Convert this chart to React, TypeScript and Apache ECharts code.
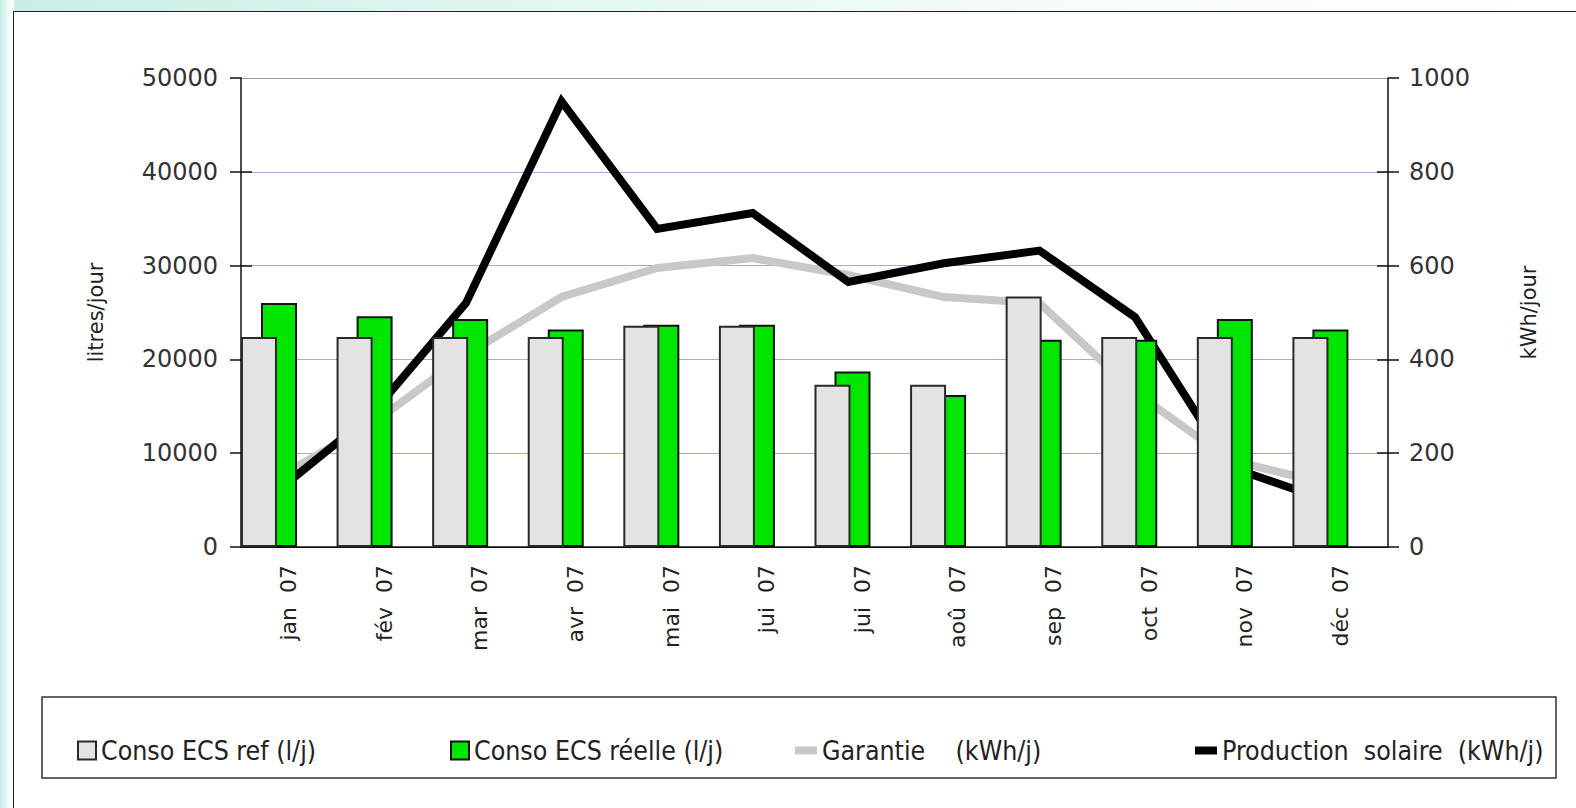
import React, { useEffect, useRef } from 'react';
import * as echarts from 'echarts';

const months = ['jan  07', 'fév  07', 'mar  07', 'avr  07', 'mai  07', 'jui  07', 'jui  07', 'aoû  07', 'sep  07', 'oct  07', 'nov  07', 'déc  07'];
const consoRef = [22400, 22400, 22400, 22400, 23600, 23600, 17300, 17300, 26700, 22400, 22400, 22400];
const consoReelle = [26000, 24600, 24300, 23200, 23700, 23700, 18700, 16200, 22100, 22100, 24300, 23200];
const garantie = [145, 260, 410, 533, 595, 616, 580, 533, 520, 330, 185, 135];
const production = [115, 280, 520, 950, 678, 712, 565, 605, 632, 490, 170, 100];
const leftTicks = [0, 10000, 20000, 30000, 40000, 50000];
const rightTicks = [0, 200, 400, 600, 800, 1000];

const names = ['Conso ECS ref (l/j)', 'Conso ECS réelle (l/j)', 'Garantie    (kWh/j)', 'Production  solaire  (kWh/j)'];

const FONT = 'DejaVu Sans';
const LEG_FONT = '"DejaVu Sans Condensed", "Liberation Sans Narrow", "DejaVu Sans"';
const LAV = '#a8a8e0';

export default function App() {
  const ref = useRef<HTMLDivElement>(null);
  useEffect(() => {
    const chart = echarts.init(ref.current!, null, { renderer: 'svg' });
    const gridBase = { top: 78, height: 469, width: 1147 };
    const legendCommon = {
      top: 732,
      textStyle: { fontFamily: LEG_FONT, fontSize: 26.5, color: '#222' },
      itemGap: 0,
      selectedMode: false,
    };
    const fmt = (v: number) => String(v);
    chart.setOption({
      animation: false,
      backgroundColor: 'transparent',
      grid: [
        { left: 241, ...gridBase },
        { left: 221.2, ...gridBase },
        { left: 227, ...gridBase },
      ],
      xAxis: [
        {
          type: 'category', gridIndex: 0, data: months,
          axisLine: { lineStyle: { color: '#111', width: 1.5 } },
          axisTick: { show: false },
          axisLabel: { interval: 0, rotate: 90, margin: 18, fontSize: 22, fontFamily: FONT, color: '#222' },
        },
        { type: 'category', gridIndex: 1, data: months, show: false },
        { type: 'category', gridIndex: 2, data: months, show: false },
      ],
      yAxis: [
        {
          type: 'value', gridIndex: 0, position: 'left', min: 0, max: 50000, interval: 10000,
          axisLine: { show: true, lineStyle: { color: '#111', width: 1.5 } },
          axisTick: { show: true, length: 11, lineStyle: { color: '#111', width: 1.5 } },
          axisLabel: { margin: 23, fontSize: 24, fontFamily: FONT, color: '#333', customValues: leftTicks, formatter: fmt },
          splitLine: { show: true, lineStyle: { color: ['#111', LAV, LAV, LAV, LAV, '#999'], width: 1.2 } },
          name: 'litres/jour', nameLocation: 'middle', nameRotate: 90, nameGap: 135,
          nameTextStyle: { fontSize: 21, fontFamily: FONT, color: '#222' },
        },
        {
          type: 'value', gridIndex: 0, position: 'left', min: 0, max: 50000, interval: 10000,
          axisLine: { show: false }, axisLabel: { show: false }, splitLine: { show: false },
          axisTick: { show: true, inside: true, length: 11, lineStyle: { color: '#111', width: 1.5 }, customValues: [10000, 20000, 30000, 40000] },
        },
        {
          type: 'value', gridIndex: 0, position: 'right', min: 0, max: 1000, interval: 200,
          axisLine: { show: true, lineStyle: { color: '#111', width: 1.5 } },
          axisTick: { show: true, length: 11, lineStyle: { color: '#111', width: 1.5 } },
          axisLabel: { margin: 21, fontSize: 24, fontFamily: FONT, color: '#333', customValues: rightTicks, formatter: fmt },
          splitLine: { show: false },
          name: 'kWh/jour', nameLocation: 'middle', nameRotate: 90, nameGap: 130,
          nameTextStyle: { fontSize: 21, fontFamily: FONT, color: '#222' },
        },
        {
          type: 'value', gridIndex: 0, position: 'right', min: 0, max: 1000, interval: 200,
          axisLine: { show: false }, axisLabel: { show: false }, splitLine: { show: false },
          axisTick: { show: true, inside: true, length: 11, lineStyle: { color: '#111', width: 1.5 }, customValues: [200, 400, 600, 800] },
        },
        { type: 'value', gridIndex: 1, min: 0, max: 50000, interval: 10000, show: false, splitLine: { show: false } },
        { type: 'value', gridIndex: 2, min: 0, max: 1000, interval: 200, show: false, splitLine: { show: false } },
      ],
      legend: [
        { ...legendCommon, left: 72, data: [{ name: names[0], icon: 'rect' }], itemWidth: 18, itemHeight: 18 },
        { ...legendCommon, left: 445, data: [{ name: names[1], icon: 'rect' }], itemWidth: 18, itemHeight: 18 },
        { ...legendCommon, left: 790, data: [{ name: names[2], icon: 'rect' }], itemWidth: 22, itemHeight: 8 },
        { ...legendCommon, left: 1190, data: [{ name: names[3], icon: 'rect' }], itemWidth: 22, itemHeight: 8 },
      ],
      graphic: [
        {
          type: 'rect', shape: { x: 42, y: 697, width: 1514, height: 81 },
          style: { fill: 'none', stroke: '#333', lineWidth: 1.5 }, silent: true,
        },
      ],
      series: [
        {
          name: names[2], type: 'line', xAxisIndex: 2, yAxisIndex: 5, data: garantie,
          symbol: 'none', z: 2, color: '#c8c8c8',
          lineStyle: { color: '#c8c8c8', width: 8, join: 'miter' },
        },
        {
          name: names[3], type: 'line', xAxisIndex: 2, yAxisIndex: 5, data: production,
          symbol: 'none', z: 3, color: '#000',
          lineStyle: { color: '#000', width: 8, join: 'miter' },
        },
        {
          name: names[0], type: 'bar', xAxisIndex: 1, yAxisIndex: 4, data: consoRef,
          barWidth: 36, z: 6,
          itemStyle: { color: '#e3e3e3', borderColor: '#2a2a2a', borderWidth: 2 },
        },
        {
          name: names[1], type: 'bar', xAxisIndex: 1, yAxisIndex: 4, data: consoReelle,
          barWidth: 36, barGap: '-44.4%', z: 5,
          itemStyle: { color: '#00e600', borderColor: '#111', borderWidth: 2 },
        },
      ],
    });
    return () => chart.dispose();
  }, []);

  return (
    <div
      style={{
        position: 'fixed', left: 0, top: 0, width: 1576, height: 808, overflow: 'hidden',
        background:
          'linear-gradient(90deg, #c4ece3 0px, #dcf4ef 5px, #f4fcfa 9px, #ffffff 12px) left top / 14px 100% no-repeat, ' +
          'linear-gradient(90deg, #c8eee6 0%, #e2f6f2 35%, #f6fcfb 70%, #ffffff 100%) left top / 100% 12px no-repeat, #ffffff',
      }}
    >
      <div
        style={{
          position: 'absolute', left: 13, top: 11, width: 1600, height: 830,
          background: '#fff', border: '1.5px solid #222', boxSizing: 'border-box',
        }}
      />
      <div ref={ref} style={{ position: 'absolute', left: 0, top: 0, width: 1576, height: 808 }} />
    </div>
  );
}
